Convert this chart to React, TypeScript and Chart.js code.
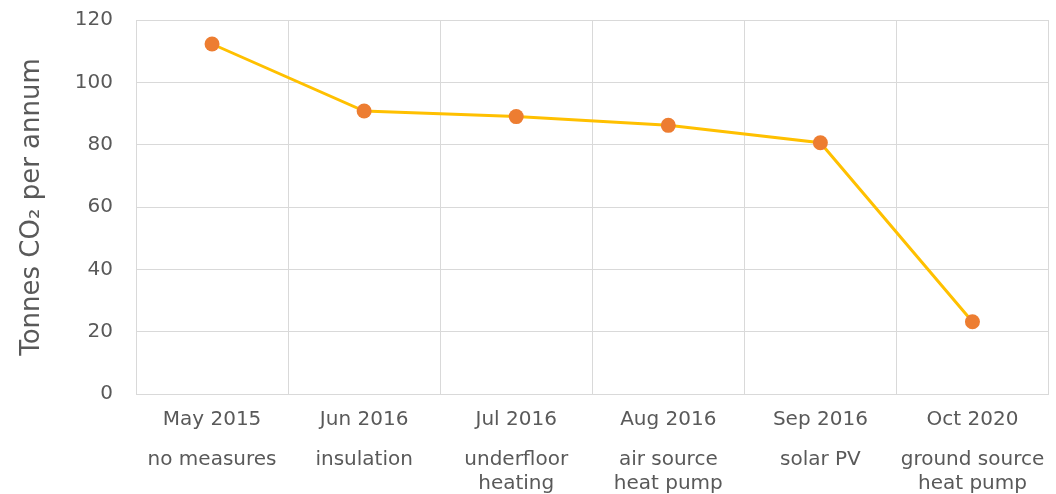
import React, { useEffect, useRef } from "react";
import { Chart, registerables } from "chart.js";

Chart.register(...registerables);

const dates = ["May 2015", "Jun 2016", "Jul 2016", "Aug 2016", "Sep 2016", "Oct 2020"];
const measures = [
  ["no measures"],
  ["insulation"],
  ["underfloor", "heating"],
  ["air source", "heat pump"],
  ["solar PV"],
  ["ground source", "heat pump"],
];
const emissions = [112.3, 90.8, 89.0, 86.2, 80.6, 23.2];
const yTitle = "Tonnes CO\u2082 per annum";

const FONT = "'DejaVu Sans', sans-serif";
const TEXT = "#595959";
const GRID = "#d9d9d9";

export default function App() {
  const ref = useRef<HTMLCanvasElement>(null);
  useEffect(() => {
    document.body.style.margin = "0";
    document.body.style.overflow = "hidden";
    const chart = new Chart(ref.current!, {
      type: "line",
      data: {
        labels: dates,
        datasets: [
          {
            data: emissions,
            borderColor: "#FFC000",
            borderWidth: 3,
            pointBackgroundColor: "#ED7D31",
            pointBorderColor: "#ED7D31",
            pointRadius: 7.5,
            pointBorderWidth: 0,
            tension: 0,
            xAxisID: "x",
          },
        ],
      },
      options: {
        responsive: false,
        animation: false,
        layout: { padding: { top: 20, right: 6, left: 0, bottom: 0 } },
        plugins: { legend: { display: false }, tooltip: { enabled: false } },
        scales: {
          x: {
            type: "category",
            position: "bottom",
            weight: 0,
            offset: true,
            grid: { color: GRID, offset: true, drawTicks: false },
            border: { color: GRID },
            ticks: { color: TEXT, font: { family: FONT, size: 20 }, padding: 14, maxRotation: 0, autoSkip: false },
            afterFit: (s: any) => { s.height = 40; s.paddingLeft = 0; s.paddingRight = 0; },
          },
          x2: {
            type: "category",
            position: "bottom",
            weight: 1,
            offset: true,
            labels: measures as any,
            grid: { display: false, drawTicks: false },
            border: { display: false },
            ticks: { color: TEXT, font: { family: FONT, size: 20, lineHeight: 1.2 }, padding: 14, maxRotation: 0, autoSkip: false },
            afterFit: (s: any) => { s.height = 76; s.paddingLeft = 0; s.paddingRight = 0; },
          },
          y: {
            min: 0,
            max: 120,
            ticks: { stepSize: 20, color: TEXT, font: { family: FONT, size: 20 }, padding: 23 },
            grid: { color: GRID, drawTicks: false },
            border: { color: GRID },
            title: {
              display: true,
              text: yTitle,
              color: TEXT,
              font: { family: FONT, size: 26, lineHeight: 1.2 },
              padding: { top: 17, bottom: 0 },
            },
            afterFit: (s: any) => {
              s.width = 136;
              s.paddingTop = 0;
              s.paddingBottom = 0;
              s.paddingLeft = 0;
              s.paddingRight = 0;
            },
          },
        },
      },
    });
    return () => chart.destroy();
  }, []);
  return (
    <div style={{ position: "fixed", left: 0, top: 0, width: 1056, height: 510 }}>
      <canvas ref={ref} width={1056} height={510} style={{ display: "block" }} />
    </div>
  );
}
